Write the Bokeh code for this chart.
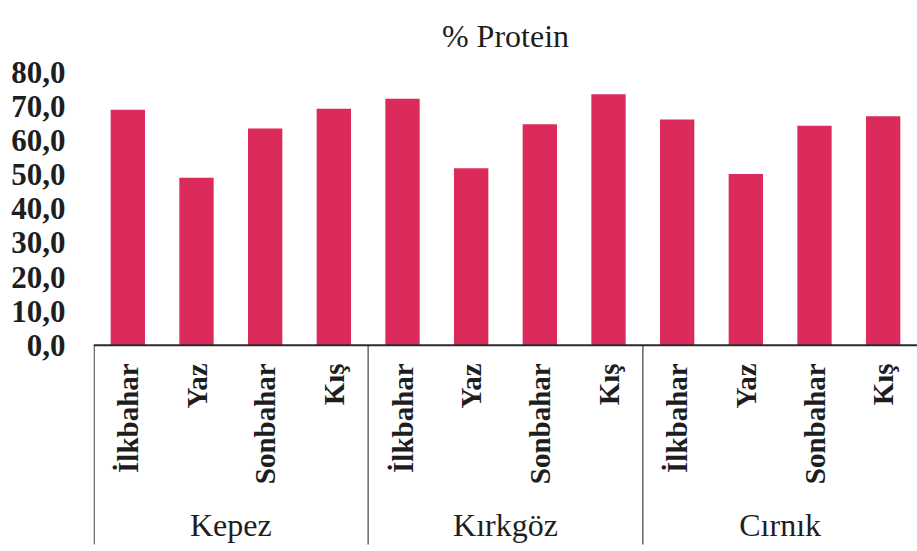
import math
from bokeh.plotting import figure
from bokeh.models import FactorRange, Range1d, ColumnDataSource, FixedTicker, Span
from bokeh.core.properties import value
from bokeh.embed import file_html
from bokeh.resources import INLINE

# ---- data ----
sites = ["Kepez", "Kırkgöz", "Cırnık"]
seasons = ["İlkbahar", "Yaz", "Sonbahar", "Kış"]
kepez = [69.1, 49.1, 63.6, 69.4]
kirkgoz = [72.3, 51.9, 64.8, 73.6]
cirnik = [66.2, 50.2, 64.4, 67.2]
y_ticks = [0, 10, 20, 30, 40, 50, 60, 70, 80]
y_tick_labels = ["0,0", "10,0", "20,0", "30,0", "40,0", "50,0", "60,0", "70,0", "80,0"]
title_text = "% Protein"

BAR = "#DB2B5B"
FONT = "Liberation Serif"
INK = "#1e1e1e"

factors = [(s, se) for s in sites for se in seasons]
values = kepez + kirkgoz + cirnik
src = ColumnDataSource(dict(x=factors, top=values, season=[f[1] for f in factors]))

y_low = -59.6
p = figure(width=917, height=548,
           x_range=FactorRange(*factors, group_padding=0, range_padding=0),
           y_range=Range1d(y_low, 80),
           output_backend="svg", toolbar_location=None, title=title_text,
           min_border_left=93, min_border_right=0, min_border_bottom=0, min_border_top=72)

p.vbar(x="x", top="top", width=0.5, source=src, fill_color=BAR, line_color=None)

# axis line at zero
p.add_layout(Span(location=0, dimension="width", line_color="#2a2a2a", line_width=2))

# group separators (left edge and between groups)
bounds = [(sites[0], seasons[0], -0.49)] + [(s, seasons[-1], 0.5) for s in sites[:-1]]
sep = ColumnDataSource(dict(x=bounds))
p.segment(x0="x", y0=0, x1="x", y1=-58.4, source=sep, line_color="#707070", line_width=1.6)

# season labels (rotated)
p.text(x="x", y=-5.3, text="season", source=src, angle=math.pi / 2,
       text_align="right", text_baseline="middle",
       text_font=value(FONT), text_font_style="bold", text_font_size="29px",
       text_color=INK)

# site labels
p.text(x=sites, y=-52.8, text=sites, text_align="center", text_baseline="middle",
       text_font=value(FONT), text_font_size="32px", text_color=INK)

p.xaxis.visible = False
p.xgrid.visible = False
p.ygrid.visible = False
p.outline_line_color = None

ya = p.yaxis[0]
ya.ticker = FixedTicker(ticks=y_ticks)
ya.major_label_overrides = {t: l for t, l in zip(y_ticks, y_tick_labels)}
ya.axis_line_color = None
ya.major_tick_line_color = None
ya.minor_tick_line_color = None
ya.major_label_standoff = 22
ya.major_label_text_font = FONT
ya.major_label_text_font_style = "bold"
ya.major_label_text_font_size = "31px"
ya.major_label_text_color = INK

p.title.text_font = FONT
p.title.text_font_style = "normal"
p.title.text_font_size = "32px"
p.title.align = "center"
p.title.vertical_align = "top"
p.title.text_color = INK
p.title.standoff = 33

open("out.html", "w").write(file_html(p, INLINE))
